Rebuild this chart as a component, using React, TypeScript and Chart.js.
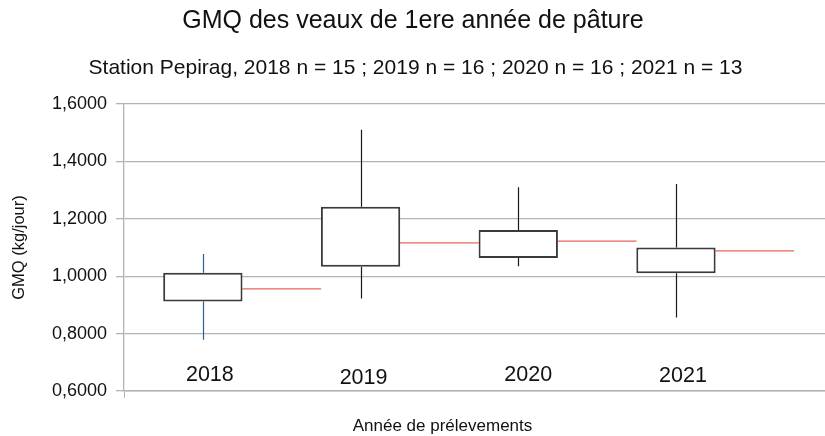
import React, { useEffect, useRef } from "react";
import { Chart, registerables } from "chart.js";

Chart.register(...registerables);

// ---- data ----
const YEARS = ["2018", "2019", "2020", "2021"];
const WHISKER_LOW = [0.779, 0.922, 1.035, 0.856];
const Q1 = [0.912, 1.033, 1.063, 1.01];
const Q3 = [1.012, 1.242, 1.161, 1.1];
const WHISKER_HIGH = [1.077, 1.51, 1.31, 1.321];
const MEAN = [0.956, 1.116, 1.122, 1.088];
const Y_TICKS = [0.6, 0.8, 1.0, 1.2, 1.4, 1.6];

const TITLE = "GMQ des veaux de 1ere année de pâture";
const SUBTITLE = "Station Pepirag, 2018 n = 15 ; 2019 n = 16 ; 2020 n = 16 ; 2021 n = 13";
const Y_TITLE = "GMQ (kg/jour)";
const X_TITLE = "Année de prélevements";

// ---- style ----
const FONT = "'Liberation Sans', Arial, sans-serif";
const GRID = "#b3b3b3";
const TEXT = "#111111";
const WHISKER_COLORS = ["#2a5f96", "#1a1a1a", "#1a1a1a", "#1a1a1a"];
const LABEL_DX = [7, 3, 10, 7];
const LABEL_DY = [0, 2.5, 0, 0.5];
const X_MAX = 4.445;

const fmt = (v: number) => v.toFixed(4).replace(".", ",");

const decorPlugin = {
  id: "decor",
  beforeDatasetsDraw(chart: any) {
    const { ctx } = chart;
    const xs = chart.scales.x;
    const ys = chart.scales.y;
    ctx.save();
    ctx.lineWidth = 1.2;
    YEARS.forEach((_, i) => {
      const x = Math.round(xs.getPixelForValue(i + 0.5)) + 0.5;
      ctx.strokeStyle = WHISKER_COLORS[i];
      ctx.beginPath();
      ctx.moveTo(x, ys.getPixelForValue(WHISKER_LOW[i]));
      ctx.lineTo(x, ys.getPixelForValue(Q1[i]));
      ctx.moveTo(x, ys.getPixelForValue(Q3[i]));
      ctx.lineTo(x, ys.getPixelForValue(WHISKER_HIGH[i]));
      ctx.stroke();
    });
    ctx.restore();
  },
  afterDraw(chart: any) {
    const { ctx } = chart;
    const xs = chart.scales.x;
    const ys = chart.scales.y;
    const area = chart.chartArea;
    ctx.save();
    ctx.fillStyle = TEXT;
    ctx.textAlign = "center";
    ctx.textBaseline = "alphabetic";
    ctx.font = `25px ${FONT}`;
    ctx.fillText(TITLE, 413, 28);
    ctx.font = `21px ${FONT}`;
    ctx.fillText(SUBTITLE, 415.5, 74);
    ctx.font = `21.5px ${FONT}`;
    YEARS.forEach((y, i) => {
      const x = xs.getPixelForValue(i + 0.5) + LABEL_DX[i];
      ctx.fillText(y, x, area.bottom - 10 + LABEL_DY[i]);
    });
    ctx.font = `17px ${FONT}`;
    ctx.fillText(X_TITLE, 442.5, 431);
    ctx.translate(24, (ys.top + ys.bottom) / 2);
    ctx.rotate(-Math.PI / 2);
    ctx.font = `16.5px ${FONT}`;
    ctx.fillText(Y_TITLE, 0, 0);
    ctx.restore();
  },
};

export default function App() {
  const ref = useRef<HTMLCanvasElement>(null);
  useEffect(() => {
    if (!ref.current) return;
    const meanPoints: any[] = [];
    MEAN.forEach((m, i) => {
      meanPoints.push({ x: i + 0.75, y: m });
      meanPoints.push({ x: i + 1.25, y: m });
      meanPoints.push({ x: i + 1.25, y: null });
    });
    const chart = new Chart(ref.current, {
      type: "bar",
      data: {
        datasets: [
          {
            type: "bar",
            data: YEARS.map((_, i) => ({ x: i + 0.5, y: [Q1[i], Q3[i]] })) as any,
            backgroundColor: "#ffffff",
            borderColor: "#3a3a3a",
            borderWidth: 2,
            borderSkipped: false,
            barPercentage: 0.503,
            categoryPercentage: 1,
          } as any,
          {
            type: "line",
            data: meanPoints,
            borderColor: "#e8665c",
            borderWidth: 1.3,
            pointRadius: 0,
            spanGaps: false,
          } as any,
        ],
      },
      options: {
        animation: false,
        responsive: false,
        devicePixelRatio: 1,
        layout: { padding: { top: 104, left: 0, right: 0, bottom: 0 } },
        plugins: { legend: { display: false }, tooltip: { enabled: false }, title: { display: false } },
        scales: {
          x: {
            type: "linear",
            min: 0,
            max: X_MAX,
            offset: false,
            afterBuildTicks: (s: any) => {
              s.ticks = [{ value: 0 }];
            },
            afterFit: (s: any) => {
              s.height = 45;
            },
            ticks: { display: false },
            grid: { offset: false, drawOnChartArea: false, drawTicks: true, tickLength: 7, color: GRID, lineWidth: 1 },
            border: { display: true, color: GRID, width: 1.5 },
          },
          y: {
            type: "linear",
            min: 0.6,
            max: 1.6,
            afterBuildTicks: (s: any) => {
              s.ticks = Y_TICKS.map((v) => ({ value: v }));
            },
            afterFit: (s: any) => {
              s.width = 124;
            },
            ticks: {
              callback: (v: any) => fmt(Number(v)),
              font: { family: FONT, size: 18 },
              color: TEXT,
              padding: 9,
            },
            grid: { color: GRID, lineWidth: 1.3, tickLength: 8, drawTicks: true },
            border: { display: true, color: GRID, width: 1.3 },
          },
        },
      } as any,
      plugins: [decorPlugin],
    });
    return () => chart.destroy();
  }, []);
  return (
    <div style={{ position: "absolute", left: 0, top: 0, width: 825, height: 436, background: "#fff" }}>
      <canvas ref={ref} width={825} height={436} />
    </div>
  );
}
